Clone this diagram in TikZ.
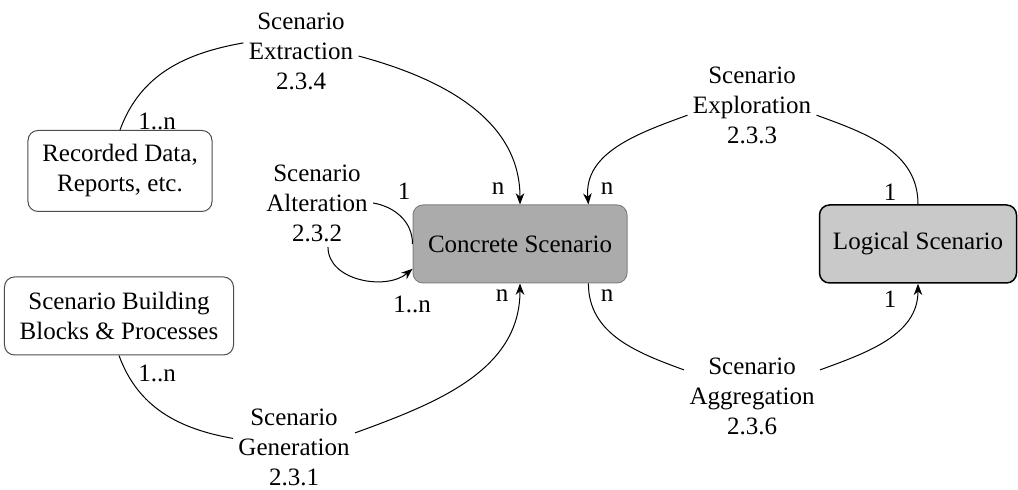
\documentclass[tikz,border=0pt]{standalone}
\usepackage{fontspec}
\setmainfont{Liberation Serif}
\usetikzlibrary{arrows.meta}

\begin{document}
\begin{tikzpicture}[x=0.4pt, y=0.4pt,
    proc/.style={align=center, inner sep=2pt},
    srcbox/.style={draw=black!70, thin, rounded corners=4pt, fill=white, align=center, minimum height=31.2pt},
    conbox/.style={draw=black!50, fill=black!33, rounded corners=4pt, minimum width=85.6pt, minimum height=31.2pt},
    logbox/.style={draw=black, semithick, fill=black!21, rounded corners=4pt, minimum width=78.8pt, minimum height=31.2pt},
    card/.style={inner sep=1pt},
    arr/.style={-{Stealth[length=4.5pt, width=3.4pt, inset=1.4pt]}}]
    \useasboundingbox (0,0) rectangle (1018,490);

    \node[conbox] (con) at (520,246) {Concrete Scenario};
    \node[logbox] (log) at (918,246) {Logical Scenario};
    \node[srcbox, minimum width=73.6pt, minimum height=32.4pt] (rec) at (120,319) {Recorded Data,\\Reports, etc.};
    \node[srcbox, minimum width=91.6pt] (bb) at (119,174) {Scenario Building\\Blocks \& Processes};

    \node[proc] (ext) at (301,439) {Scenario\\Extraction\\2.3.4};
    \node[proc] (expl) at (752,385) {Scenario\\Exploration\\2.3.3};
    \node[proc] (alt) at (317,287) {Scenario\\Alteration\\2.3.2};
    \node[proc] (gen) at (294,43) {Scenario\\Generation\\2.3.1};
    \node[proc] (agg) at (752,94) {Scenario\\Aggregation\\2.3.6};

    \draw (rec.north) to[out=70, in=190] (ext.172);
    \draw[arr] (ext.-5) to[out=-15, in=90] (con.north);

    \draw (log.north) to[out=90, in=-20] (expl.-9);
    \draw[arr] (expl.189) to[out=200, in=95] (con.30);

    \draw (alt.east) to[out=-10, in=90] (con.west);
    \draw[arr] (alt.-76) to[out=-90, in=220] (con.193);

    \draw (bb.south) to[out=-70, in=170] (gen.172);
    \draw[arr] (gen.13) to[out=20, in=-90] (con.south);

    \draw (con.-30) to[out=-90, in=160] (agg.159);
    \draw[arr] (agg.21) to[out=20, in=-90] (log.south);

    \node[card] (c1) at (157,369) {1..n};
    \node[card] (c2) at (498,301) {n};
    \node[card] (c3) at (607,301) {n};
    \node[card] (c4) at (890,298) {1};
    \node[card] (c5) at (404,299) {1};
    \node[card] (c6) at (412,186) {1..n};
    \node[card] (c7) at (157,117) {1..n};
    \node[card] (c8) at (502,194) {n};
    \node[card] (c9) at (607,194) {n};
    \node[card] (c10) at (890,191) {1};
\end{tikzpicture}
\end{document}
